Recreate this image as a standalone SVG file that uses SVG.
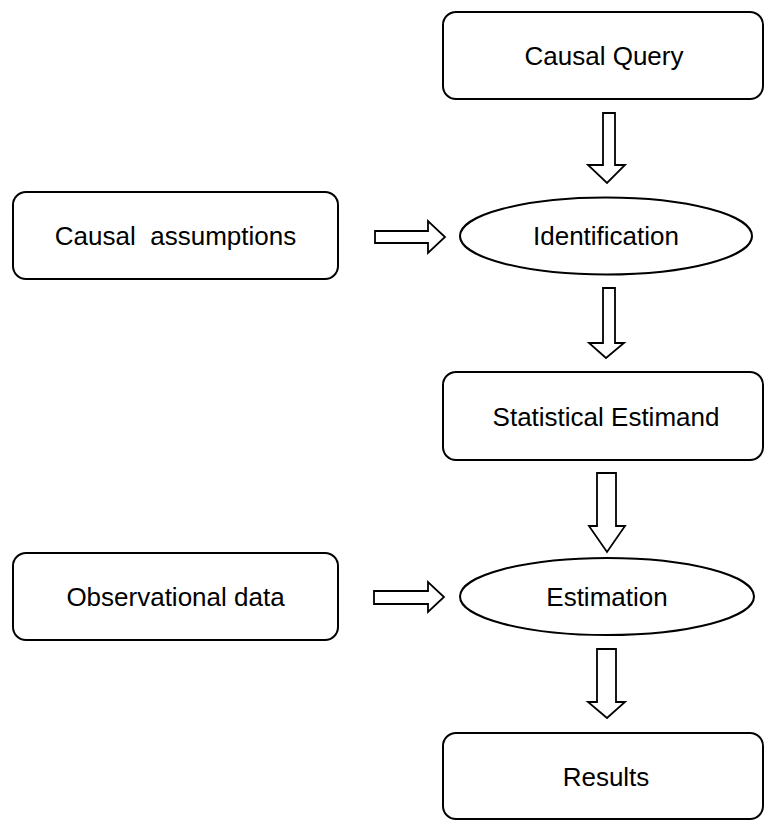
<svg xmlns="http://www.w3.org/2000/svg" width="765" height="821" viewBox="0 0 765 821">
<style>
.box{fill:#fff;stroke:#000;stroke-width:2}
.ell{fill:#fff;stroke:#000;stroke-width:2}
.arr{fill:#fff;stroke:#000;stroke-width:1.8;stroke-linejoin:miter}
.lbl{font-family:"Liberation Sans",Arial,sans-serif;font-size:26px;fill:#000;text-anchor:middle;white-space:pre}
</style>
<rect width="765" height="821" fill="#fff"/>
<g id="connectors">
<path class="arr" d="M603,113 H615 V165 H625 L607,183 L588,165 H603 Z"/>
<path class="arr" d="M603,288 H615 V343 H624 L606,358 L589,343 H603 Z"/>
<path class="arr" d="M597,473 H616 V526 H625 L607,552 L589,526 H597 Z"/>
<path class="arr" d="M597,649 H616 V702 H625 L607,718 L588,702 H597 Z"/>
<path class="arr" d="M375,231 H428 V221 L445,237 L428,253 V243 H375 Z"/>
<path class="arr" d="M374,591 H428 V582 L444,597 L428,612 V604 H374 Z"/>
</g>
<g id="causal-query">
<rect class="box" x="443" y="12" width="320" height="87" rx="13"/>
<text class="lbl" x="604" y="65">Causal Query</text>
</g>
<g id="causal-assumptions">
<rect class="box" x="13" y="192" width="325" height="87" rx="13"/>
<text class="lbl" x="175.5" y="245">Causal  assumptions</text>
</g>
<g id="identification">
<ellipse class="ell" cx="606" cy="236" rx="146" ry="38.5"/>
<text class="lbl" x="606" y="245">Identification</text>
</g>
<g id="statistical-estimand">
<rect class="box" x="443" y="372" width="320" height="88" rx="13"/>
<text class="lbl" x="606" y="426">Statistical Estimand</text>
</g>
<g id="observational-data">
<rect class="box" x="13" y="553" width="325" height="87" rx="13"/>
<text class="lbl" x="175.5" y="606">Observational data</text>
</g>
<g id="estimation">
<ellipse class="ell" cx="607" cy="596.5" rx="147" ry="38.5"/>
<text class="lbl" x="607" y="606">Estimation</text>
</g>
<g id="results">
<rect class="box" x="443" y="733" width="320" height="86" rx="13"/>
<text class="lbl" x="606" y="786">Results</text>
</g>
</svg>
